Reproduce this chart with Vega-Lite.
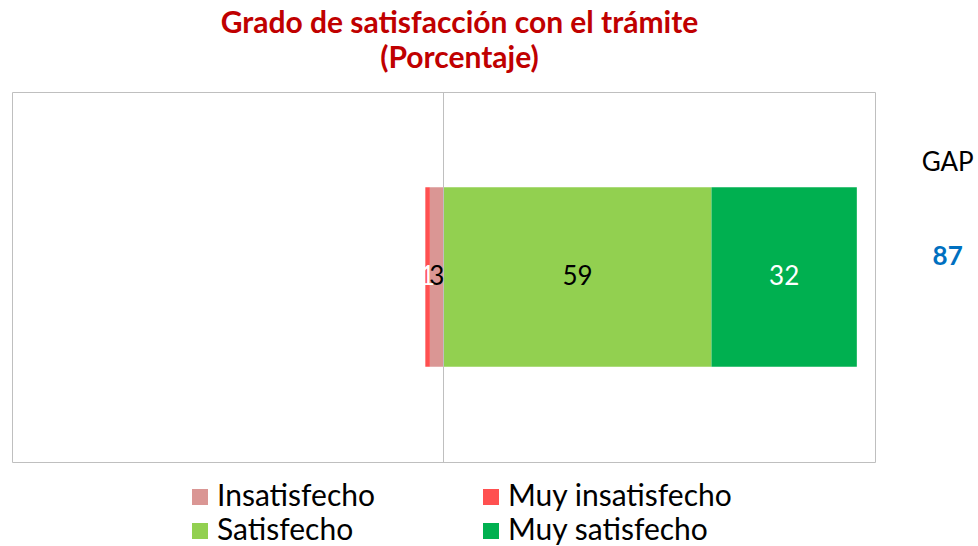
{
  "$schema": "https://vega.github.io/schema/vega-lite/v6.json",
  "autosize": {"type": "none"},
  "width": 863,
  "height": 370,
  "padding": {"left": 12, "top": 92, "right": 103, "bottom": 84},
  "background": "white",
  "config": {
    "font": "Lato",
    "view": {"stroke": "#BFBFBF", "strokeWidth": 1}
  },
  "title": {
    "text": ["Grado de satisfacción con el trámite", "(Porcentaje)"],
    "font": "Lato",
    "fontSize": 30,
    "fontWeight": "bold",
    "color": "#C00000",
    "lineHeight": 35,
    "anchor": "middle",
    "dx": 16,
    "offset": 18
  },
  "datasets": {
    "bars": [
      {"grupo": "Trámite", "categoria": "Insatisfecho", "valor": -3, "etiqueta": "3", "orden": 1},
      {"grupo": "Trámite", "categoria": "Muy insatisfecho", "valor": -1, "etiqueta": "1", "orden": 2},
      {"grupo": "Trámite", "categoria": "Satisfecho", "valor": 59, "etiqueta": "59", "orden": 3},
      {"grupo": "Trámite", "categoria": "Muy satisfecho", "valor": 32, "etiqueta": "32", "orden": 4}
    ],
    "gap": [
      {"grupo": "Trámite", "titulo": "GAP", "gap": 87}
    ]
  },
  "layer": [
    {
      "data": {"name": "bars"},
      "mark": {"type": "bar"},
      "encoding": {
        "y": {"field": "grupo", "type": "nominal", "axis": null, "scale": {"paddingInner": 0, "paddingOuter": 0.53}},
        "x": {"field": "valor", "type": "quantitative", "stack": "zero", "axis": null, "scale": {"domain": [-95, 95], "nice": false, "zero": false}},
        "color": {
          "field": "categoria",
          "type": "nominal",
          "scale": {
            "domain": ["Insatisfecho", "Muy insatisfecho", "Satisfecho", "Muy satisfecho"],
            "range": ["#DA9694", "#FF5050", "#92D050", "#00B050"]
          },
          "legend": {
            "title": null,
            "orient": "none",
            "legendX": 173,
            "legendY": 390,
            "direction": "horizontal",
            "columns": 2,
            "padding": 0,
            "columnPadding": 100,
            "rowPadding": 4,
            "symbolType": "square",
            "symbolSize": 256,
            "symbolStrokeWidth": 0,
            "symbolOpacity": 1,
            "labelFont": "Lato",
            "labelFontSize": 30,
            "labelColor": "#000000",
            "labelOffset": 2,
            "labelLimit": 400
          }
        },
        "order": {"field": "orden", "type": "quantitative"}
      }
    },
    {
      "data": {"name": "bars"},
      "mark": {"type": "rule", "color": "#BFBFBF", "strokeWidth": 1},
      "encoding": {
        "x": {"datum": 0, "type": "quantitative"}
      }
    },
    {
      "data": {"name": "bars"},
      "mark": {"type": "text", "font": "Lato", "fontSize": 26, "baseline": "middle", "align": "center"},
      "encoding": {
        "y": {"field": "grupo", "type": "nominal"},
        "x": {"field": "valor", "type": "quantitative", "stack": "zero", "bandPosition": 0.5},
        "order": {"field": "orden", "type": "quantitative"},
        "detail": {"field": "categoria"},
        "text": {"field": "etiqueta"},
        "color": {
          "condition": {"test": "datum.categoria === 'Muy insatisfecho' || datum.categoria === 'Muy satisfecho'", "value": "#FFFFFF"},
          "value": "#000000"
        }
      }
    },
    {
      "data": {"name": "gap"},
      "mark": {"type": "text", "font": "Lato", "fontSize": 26, "baseline": "middle", "align": "center", "dy": -114, "color": "#000000"},
      "encoding": {
        "y": {"field": "grupo", "type": "nominal"},
        "x": {"datum": 111, "type": "quantitative"},
        "text": {"field": "titulo"}
      }
    },
    {
      "data": {"name": "gap"},
      "mark": {"type": "text", "font": "Lato", "fontSize": 26, "fontWeight": "bold", "baseline": "middle", "align": "center", "dy": -20, "color": "#0070C0"},
      "encoding": {
        "y": {"field": "grupo", "type": "nominal"},
        "x": {"datum": 111, "type": "quantitative"},
        "text": {"field": "gap"}
      }
    }
  ]
}
